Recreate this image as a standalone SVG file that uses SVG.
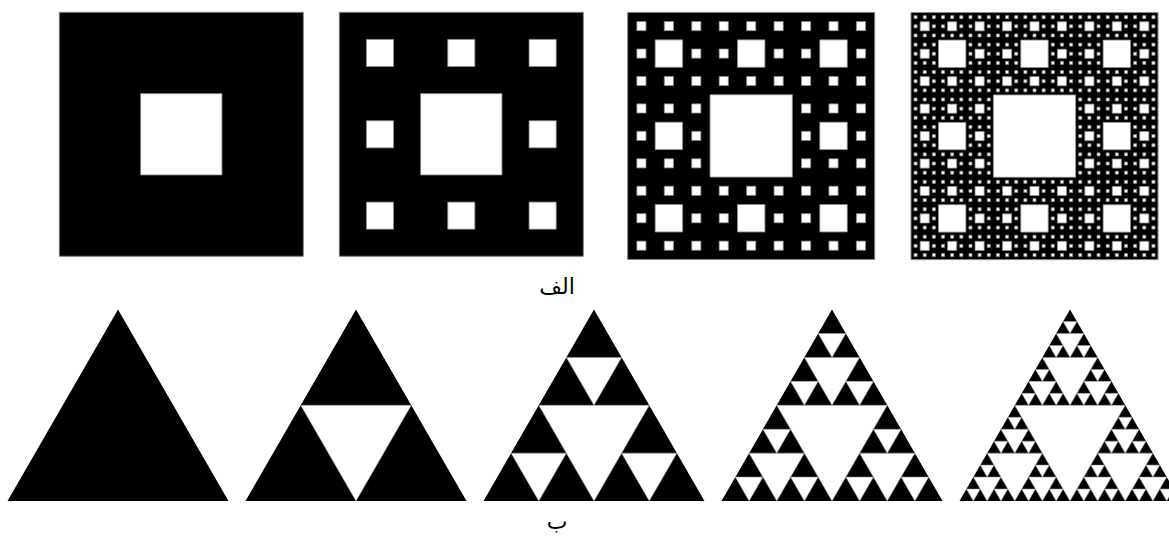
<svg xmlns="http://www.w3.org/2000/svg" xmlns:xlink="http://www.w3.org/1999/xlink" width="1169" height="536" viewBox="0 0 1169 536">
<style>
.cbg{fill:#000;stroke:#808080;stroke-width:1;vector-effect:non-scaling-stroke}
.ch{fill:#fff;stroke:#8a8a8a;stroke-width:0.8;vector-effect:non-scaling-stroke}
.tbg{fill:#000}
.th{fill:#fff;stroke:#9a9a9a;stroke-width:0.6;vector-effect:non-scaling-stroke}
.lbl{font-family:"DejaVu Sans","Noto Sans",sans-serif;font-size:22px;fill:#000;text-anchor:middle}
</style>
<defs>
<g id="h1"><rect class="ch" x="81" y="81" width="81" height="81"/></g>
<g id="h2"><use href="#h1"/>
<use href="#h1" transform="translate(0,0) scale(0.3333333)"/>
<use href="#h1" transform="translate(81,0) scale(0.3333333)"/>
<use href="#h1" transform="translate(162,0) scale(0.3333333)"/>
<use href="#h1" transform="translate(0,81) scale(0.3333333)"/>
<use href="#h1" transform="translate(162,81) scale(0.3333333)"/>
<use href="#h1" transform="translate(0,162) scale(0.3333333)"/>
<use href="#h1" transform="translate(81,162) scale(0.3333333)"/>
<use href="#h1" transform="translate(162,162) scale(0.3333333)"/>
</g>
<g id="h3"><use href="#h1"/>
<use href="#h2" transform="translate(0,0) scale(0.3333333)"/>
<use href="#h2" transform="translate(81,0) scale(0.3333333)"/>
<use href="#h2" transform="translate(162,0) scale(0.3333333)"/>
<use href="#h2" transform="translate(0,81) scale(0.3333333)"/>
<use href="#h2" transform="translate(162,81) scale(0.3333333)"/>
<use href="#h2" transform="translate(0,162) scale(0.3333333)"/>
<use href="#h2" transform="translate(81,162) scale(0.3333333)"/>
<use href="#h2" transform="translate(162,162) scale(0.3333333)"/>
</g>
<g id="h4"><use href="#h1"/>
<use href="#h3" transform="translate(0,0) scale(0.3333333)"/>
<use href="#h3" transform="translate(81,0) scale(0.3333333)"/>
<use href="#h3" transform="translate(162,0) scale(0.3333333)"/>
<use href="#h3" transform="translate(0,81) scale(0.3333333)"/>
<use href="#h3" transform="translate(162,81) scale(0.3333333)"/>
<use href="#h3" transform="translate(0,162) scale(0.3333333)"/>
<use href="#h3" transform="translate(81,162) scale(0.3333333)"/>
<use href="#h3" transform="translate(162,162) scale(0.3333333)"/>
</g>
<polygon id="tri" class="tbg" points="0,221.7025 256,221.7025 128,0"/>
<g id="t1"><polygon class="th" points="64,110.85125 192,110.85125 128,221.7025"/></g>
<g id="t2"><use href="#t1"/>
<use href="#t1" transform="translate(0,110.85125) scale(0.5)"/>
<use href="#t1" transform="translate(128,110.85125) scale(0.5)"/>
<use href="#t1" transform="translate(64,0) scale(0.5)"/>
</g>
<g id="t3"><use href="#t1"/>
<use href="#t2" transform="translate(0,110.85125) scale(0.5)"/>
<use href="#t2" transform="translate(128,110.85125) scale(0.5)"/>
<use href="#t2" transform="translate(64,0) scale(0.5)"/>
</g>
<g id="t4"><use href="#t1"/>
<use href="#t3" transform="translate(0,110.85125) scale(0.5)"/>
<use href="#t3" transform="translate(128,110.85125) scale(0.5)"/>
<use href="#t3" transform="translate(64,0) scale(0.5)"/>
</g>
</defs>
<rect width="1169" height="536" fill="#fff"/>
<g id="carpet1" transform="translate(59.3,12.3) scale(1.004115)"><rect class="cbg" width="243" height="243"/><use href="#h1"/></g>
<g id="carpet2" transform="translate(339.3,12.3) scale(1.004115)"><rect class="cbg" width="243" height="243"/><use href="#h2"/></g>
<g id="carpet3" transform="translate(627.7,12.4) scale(1.016461)"><rect class="cbg" width="243" height="243"/><use href="#h3"/></g>
<g id="carpet4" transform="translate(911,12.6) scale(1.016461)"><rect class="cbg" width="243" height="243"/><use href="#h4"/></g>
<g id="label-alef"><text class="lbl" x="557" y="294">الف</text></g>
<g id="tri1" transform="translate(7.5,309.6) scale(0.863281)"><use href="#tri"/></g>
<g id="tri2" transform="translate(245.5,309.6) scale(0.863281)"><use href="#tri"/><use href="#t1"/></g>
<g id="tri3" transform="translate(483.5,309.6) scale(0.863281)"><use href="#tri"/><use href="#t2"/></g>
<g id="tri4" transform="translate(721.5,309.6) scale(0.863281)"><use href="#tri"/><use href="#t3"/></g>
<g id="tri5" transform="translate(959.5,309.6) scale(0.863281)"><use href="#tri"/><use href="#t4"/></g>
<g id="label-be"><text class="lbl" x="557" y="529">ب</text></g>
</svg>
